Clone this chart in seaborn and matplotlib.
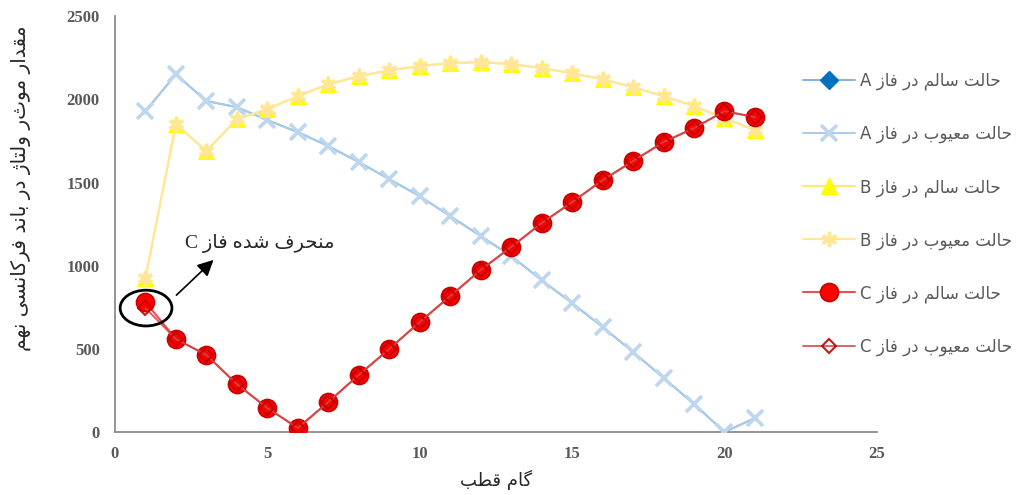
import re
import matplotlib
matplotlib.use("Agg")
import matplotlib.pyplot as plt
import seaborn as sns
from matplotlib.lines import Line2D
from matplotlib.patches import Ellipse

# Data
steps = list(range(1, 22))
a_healthy = [1930, 2150, 1990, 1953, 1875, 1803, 1719, 1623, 1520, 1418, 1298,
             1178, 1058, 913, 775, 631, 481, 325, 168, 0, 84]
a_faulty = [1930, 2150, 1990, 1953, 1875, 1803, 1719, 1623, 1520, 1418, 1298,
            1178, 1058, 913, 775, 631, 481, 325, 168, 0, 84]
b_healthy = [925, 1851, 1689, 1881, 1941, 2019, 2091, 2139, 2175, 2200, 2218,
             2224, 2212, 2188, 2157, 2121, 2073, 2019, 1959, 1887, 1815]
b_faulty = [925, 1851, 1689, 1881, 1941, 2019, 2091, 2139, 2175, 2200, 2218,
            2224, 2212, 2188, 2157, 2121, 2073, 2019, 1959, 1887, 1815]
c_healthy = [781, 559, 463, 288, 144, 24, 180, 343, 499, 661, 817,
             974, 1112, 1256, 1382, 1514, 1629, 1743, 1827, 1929, 1893]
c_faulty = [745, 559, 463, 288, 144, 24, 180, 343, 499, 661, 817,
            974, 1112, 1256, 1382, 1514, 1629, 1743, 1827, 1929, 1893]

labels = ["حالت سالم در فاز A", "حالت معیوب در فاز A",
          "حالت سالم در فاز B", "حالت معیوب در فاز B",
          "حالت سالم در فاز C", "حالت معیوب در فاز C"]
xlabel = "گام قطب"
ylabel = "مقدار موثر ولتاژ در باند فرکانسی نهم"
note = "منحرف شده فاز C"

# matplotlib has no arabic shaping, so map letters to presentation forms by hand
# (isolated, final, initial, medial)
FORMS = {
    'ا': ('\uFE8D', '\uFE8E', None, None),
    'ب': ('\uFE8F', '\uFE90', '\uFE91', '\uFE92'),
    'ت': ('\uFE95', '\uFE96', '\uFE97', '\uFE98'),
    'ح': ('\uFEA1', '\uFEA2', '\uFEA3', '\uFEA4'),
    'د': ('\uFEA9', '\uFEAA', None, None),
    'ر': ('\uFEAD', '\uFEAE', None, None),
    'ز': ('\uFEAF', '\uFEB0', None, None),
    'س': ('\uFEB1', '\uFEB2', '\uFEB3', '\uFEB4'),
    'ش': ('\uFEB5', '\uFEB6', '\uFEB7', '\uFEB8'),
    'ط': ('\uFEC1', '\uFEC2', '\uFEC3', '\uFEC4'),
    'ع': ('\uFEC9', '\uFECA', '\uFECB', '\uFECC'),
    'ف': ('\uFED1', '\uFED2', '\uFED3', '\uFED4'),
    'ق': ('\uFED5', '\uFED6', '\uFED7', '\uFED8'),
    'ل': ('\uFEDD', '\uFEDE', '\uFEDF', '\uFEE0'),
    'م': ('\uFEE1', '\uFEE2', '\uFEE3', '\uFEE4'),
    'ن': ('\uFEE5', '\uFEE6', '\uFEE7', '\uFEE8'),
    'ه': ('\uFEE9', '\uFEEA', '\uFEEB', '\uFEEC'),
    'و': ('\uFEED', '\uFEEE', None, None),
    'ی': ('\uFBFC', '\uFBFD', '\uFBFE', '\uFBFF'),
    'ک': ('\uFB8E', '\uFB8F', '\uFB90', '\uFB91'),
    'گ': ('\uFB92', '\uFB93', '\uFB94', '\uFB95'),
    'ژ': ('\uFB8A', '\uFB8B', None, None),
}


def shape(s):
    out = []
    for i, ch in enumerate(s):
        if ch not in FORMS:
            out.append(ch)
            continue
        f = FORMS[ch]
        prev = s[i - 1] if i > 0 else ''
        nxt = s[i + 1] if i < len(s) - 1 else ''
        jp = prev in FORMS and FORMS[prev][2] is not None
        jn = f[2] is not None and nxt in FORMS
        if jp and jn:
            out.append(f[3])
        elif jp:
            out.append(f[1])
        elif jn:
            out.append(f[2])
        else:
            out.append(f[0])
    return ''.join(out)


def fa(text):
    runs = re.findall(r'[A-Za-z0-9]+|[^A-Za-z0-9]+', text)
    return ''.join(r if re.match(r'[A-Za-z0-9]', r) else shape(r)[::-1]
                   for r in reversed(runs))


sns.set_style("white")
plt.rcParams['font.family'] = ['DejaVu Sans']

fig = plt.figure(figsize=(10.31, 4.95), dpi=100)
ax = fig.add_axes([0.1115, 0.1273, 0.739, 0.840])

# series styles
styles = [
    dict(color='#7FB2E0', marker='D', markersize=0, markerfacecolor='#0070C0',
         markeredgecolor='#0070C0', lw=1.4),
    dict(color='#A9CBEA', marker='x', markersize=11, markeredgewidth=2.6,
         markeredgecolor='#BDD7EE', lw=1.4),
    dict(color='#FFEB70', marker='^', markersize=11, markerfacecolor='#FFFF00',
         markeredgecolor='#FFFF00', lw=1.5),
    dict(color='#FFE699', marker=(6, 2, 0), markersize=11, markeredgewidth=2.4,
         markeredgecolor='#FFE699', lw=1.5),
    dict(color='#E85050', marker='o', markersize=13, markerfacecolor='#FF0000',
         markeredgecolor='#C80000', markeredgewidth=1.2, lw=1.5),
    dict(color='#D04848', marker='D', markersize=7.5, markerfacecolor='none',
         markeredgecolor='#C00000', markeredgewidth=1.5, lw=1.3, alpha=0.9),
]
series = [a_healthy, a_faulty, b_healthy, b_faulty, c_healthy, c_faulty]

for i, (vals, st) in enumerate(zip(series, styles)):
    sns.lineplot(x=steps, y=vals, ax=ax, legend=False, zorder=2 + i, **st)

ax.set_xlim(0, 25)
ax.set_ylim(0, 2500)
ax.set_xticks([0, 5, 10, 15, 20, 25])
ax.set_yticks([0, 500, 1000, 1500, 2000, 2500])
ax.tick_params(length=0, labelsize=12, labelcolor='#595959')
ax.tick_params(axis='x', pad=10)
ax.tick_params(axis='y', pad=11)
for t in ax.get_xticklabels() + ax.get_yticklabels():
    t.set_family('Liberation Serif')
    t.set_fontweight('bold')
for s in ['top', 'right']:
    ax.spines[s].set_visible(False)
for s in ['left', 'bottom']:
    ax.spines[s].set_color('#8C8C8C')
    ax.spines[s].set_linewidth(1.3)

ax.set_xlabel(fa(xlabel), fontsize=13, labelpad=6)
ax.set_ylabel(fa(ylabel), fontsize=14.5)
ax.yaxis.set_label_coords(-0.11, 0.585)

# circled deviation and note
ax.add_patch(Ellipse((1.02, 745), width=1.7, height=215, fill=False, lw=2,
                     ec='black', zorder=10))
ax.annotate('', xy=(3.3, 1046), xytext=(1.95, 811),
            arrowprops=dict(arrowstyle='-|>', color='black', lw=1.2,
                            mutation_scale=24), zorder=10)
ax.text(2.3, 1136, fa(note), family=['Liberation Serif', 'DejaVu Sans'],
        fontsize=14, va='center', ha='left')

# legend built from the series styles
handles = []
for st in styles:
    kw = dict(st)
    if kw['markersize'] == 0:
        kw['markersize'] = 9
    handles.append(Line2D([], [], **kw))
fig.legend(handles, [fa(l) for l in labels], loc='center left',
           bbox_to_anchor=(0.779, 0.568), frameon=False, fontsize=12,
           labelcolor='#595959', labelspacing=2.08, handlelength=3.1,
           handletextpad=0.3, borderpad=0, borderaxespad=0)

fig.savefig('out.png', dpi=100)
